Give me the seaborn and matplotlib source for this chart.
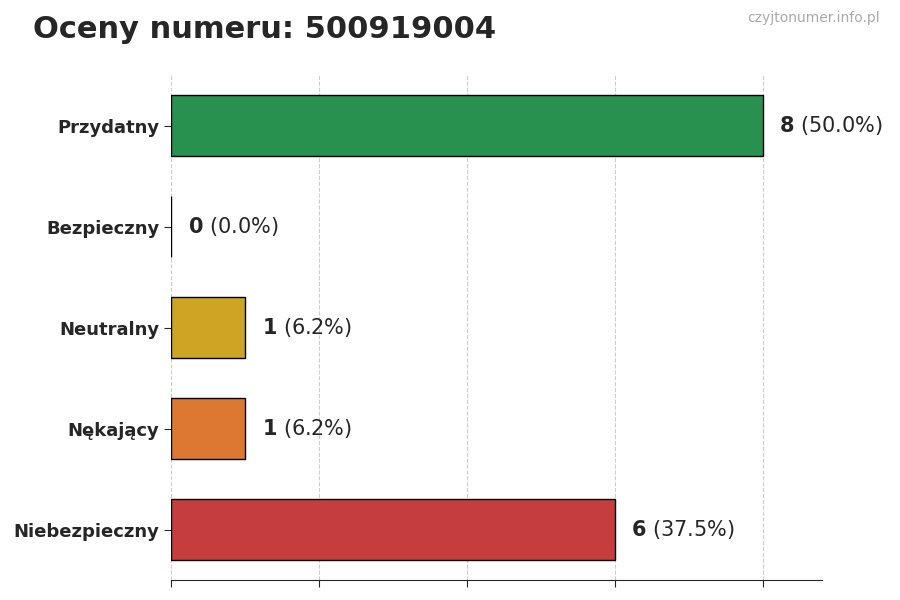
import matplotlib
matplotlib.use("Agg")
import matplotlib.pyplot as plt
import seaborn as sns
import pandas as pd

categories = ["Przydatny", "Bezpieczny", "Neutralny", "Nękający", "Niebezpieczny"]
counts = [8, 0, 1, 1, 6]
percents = [50.0, 0.0, 6.2, 6.2, 37.5]
colors = ["#16a34a", "#15803d", "#eab308", "#f97316", "#dc2626"]

sns.set_style("white")
plt.rcParams['font.family'] = ['DejaVu Sans']
fig = plt.figure(figsize=(9, 6), dpi=100)
ax = fig.add_axes([0.19, 0.033, 0.723, 0.842])
df = pd.DataFrame({"cat": categories, "n": counts})
sns.barplot(data=df, x="n", y="cat", hue="cat", palette=colors, legend=False,
            orient="h", width=0.6, edgecolor="black", linewidth=1, ax=ax)
ax.set_xlim(0, 8.8)
ax.set_xticks([0, 2, 4, 6, 8])
ax.set_xticklabels([])
ax.tick_params(axis="x", length=5, bottom=True)
ax.tick_params(axis="y", length=5, left=True, labelsize=13)
for lab in ax.get_yticklabels():
    lab.set_fontweight("bold")
ax.set_xlabel("")
ax.set_ylabel("")
ax.grid(axis="x", linestyle="--", color="#cccccc", linewidth=0.8)
ax.set_axisbelow(True)
for s in ["top", "right", "left"]:
    ax.spines[s].set_visible(False)
for i, (c, p) in enumerate(zip(counts, percents)):
    ax.annotate(f"$\\bf{{{c}}}$ ({p:.1f}%)", (c, i), xytext=(12, 0),
                textcoords="offset points", va="center", fontsize=15)
fig.text(0.037, 0.95, "Oceny numeru: 500919004", fontsize=22, fontweight="bold", va="center")
fig.text(0.978, 0.97, "czyjtonumer.info.pl", fontsize=10, color="#aaaaaa", ha="right", va="center")
fig.savefig("out.png", dpi=100)
